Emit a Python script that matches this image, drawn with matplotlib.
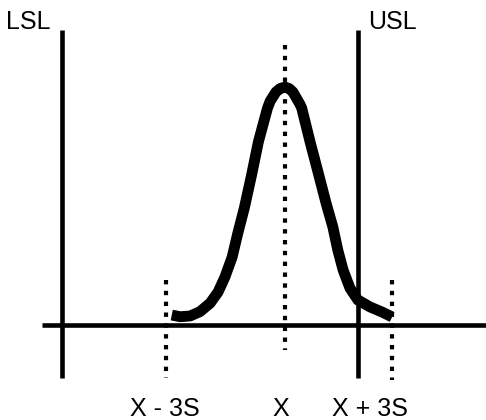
import matplotlib
matplotlib.use("Agg")
import matplotlib.pyplot as plt
from matplotlib import font_manager

# pick a narrow font if there is one
names = {f.name for f in font_manager.fontManager.ttflist}
family = "Liberation Sans Narrow" if "Liberation Sans Narrow" in names else "Liberation Sans"
plt.rcParams["font.family"] = [family, "DejaVu Sans"]

# curve (x in sigma-ish units, mean at 0; y relative to peak)
curve_x = [-2.98, -2.76, -2.50, -2.24, -1.97, -1.76, -1.58, -1.39, -1.24, -1.07, -0.88,
           -0.70, -0.46, -0.39, -0.24, -0.13, 0.0, 0.11, 0.21, 0.39, 0.44, 0.66, 0.89,
           1.08, 1.26, 1.39, 1.53, 1.71, 1.92, 2.24, 2.55, 2.82]
curve_y = [0.042, 0.035, 0.038, 0.056, 0.092, 0.139, 0.202, 0.286, 0.387, 0.492, 0.630,
           0.770, 0.912, 0.941, 0.979, 0.994, 1.0, 0.994, 0.979, 0.929, 0.912, 0.770, 0.630,
           0.513, 0.412, 0.315, 0.231, 0.155, 0.105, 0.076, 0.055, 0.034]

# spec limits and marker positions
lsl = -5.87
usl = 1.92
mean = 0.0
minus3s = -3.13
plus3s = 2.82

limit_names = ["LSL", "USL"]
marker_labels = ["X - 3S", "X", "X + 3S"]

fig = plt.figure(figsize=(4.86, 4.2), dpi=100)
ax = fig.add_axes([0, 0, 1, 1])
ax.set_xlim(-7.5, 5.29)
ax.set_ylim(-0.399, 1.366)
ax.axis("off")

# baseline
ax.plot([-6.39, 5.29], [0, 0], color="black", lw=3.3, solid_capstyle="butt")

# spec limit lines
for xv in [lsl, usl]:
    ax.plot([xv, xv], [-0.223, 1.24], color="black", lw=3.3, solid_capstyle="butt")

# dotted markers
dots = dict(color="black", lw=3.0, linestyle=(0, (1.05, 1.55)), dash_capstyle="butt")
ax.plot([minus3s, minus3s], [0.189, -0.223], **dots)
ax.plot([mean, mean], [1.176, -0.105], **dots)
ax.plot([plus3s, plus3s], [0.189, -0.231], **dots)

# distribution curve
ax.plot(curve_x, curve_y, color="black", lw=7.8, solid_capstyle="butt", solid_joinstyle="round")

fs = 18
ax.text(-6.76, 1.273, limit_names[0], ha="center", va="center", fontsize=fs, fontweight="light")
ax.text(2.82, 1.273, limit_names[1], ha="center", va="center", fontsize=fs, fontweight="light")
for xv, lab in zip([-3.16, -0.1, 2.24], marker_labels):
    ax.text(xv, -0.353, lab, ha="center", va="center", fontsize=fs, fontweight="light")

fig.savefig("out.png", dpi=100)
